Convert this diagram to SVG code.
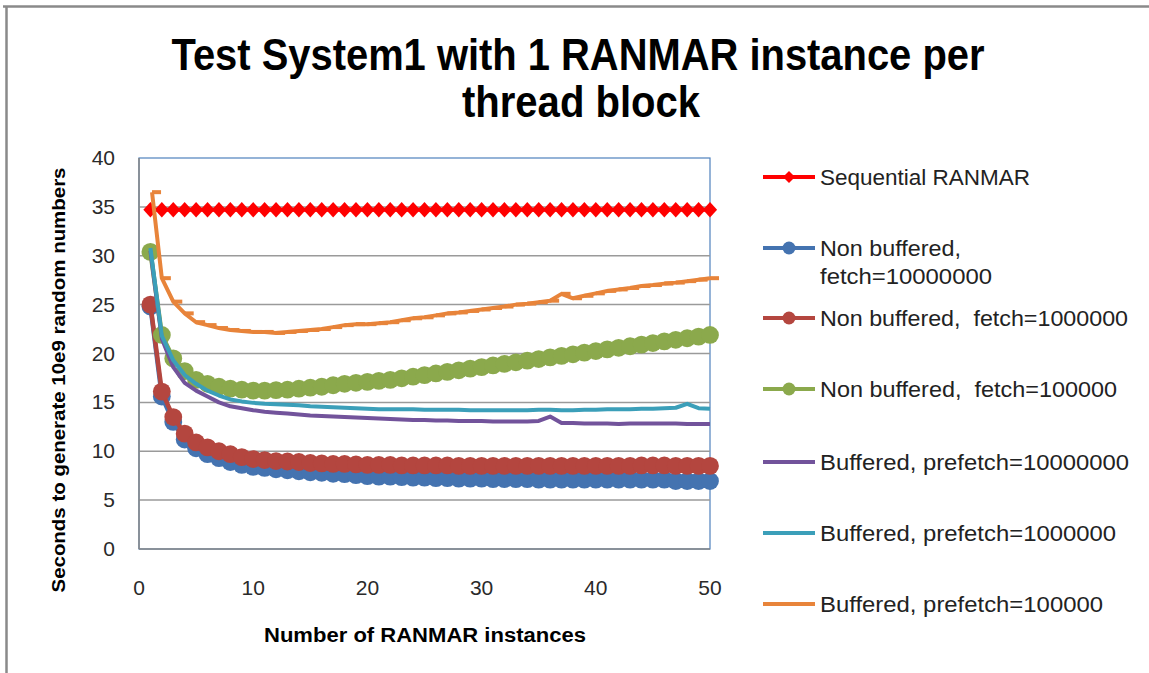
<svg xmlns="http://www.w3.org/2000/svg" width="1149" height="673" viewBox="0 0 1149 673">
<style>
.frame{stroke:#8a8a8a;stroke-width:2.5;fill:none}
.grid{stroke:#9a9a9a;stroke-width:1.5}
.tick{font-family:"Liberation Sans",Arial,sans-serif;font-size:21px;fill:#2a2a2a}
.ttl{font-family:"Liberation Sans",Arial,sans-serif;font-weight:bold;fill:#000}
.leg{font-family:"Liberation Sans",Arial,sans-serif;font-size:22px;fill:#222;white-space:pre}
.s{fill:none;vector-effect:non-scaling-stroke;stroke-linejoin:round}
</style>
<defs>
<marker id="mDia" markerUnits="userSpaceOnUse" markerWidth="1" markerHeight="1" overflow="visible"><polygon points="-0.62,0 0,0.79 0.62,0 0,-0.79" fill="#FF0000"/></marker>
<marker id="mBlue" markerUnits="userSpaceOnUse" markerWidth="1" markerHeight="1" overflow="visible"><ellipse rx="0.78" ry="0.91" fill="#4473B0"/></marker>
<marker id="mRed" markerUnits="userSpaceOnUse" markerWidth="1" markerHeight="1" overflow="visible"><ellipse rx="0.78" ry="0.91" fill="#B4463F"/></marker>
<marker id="mGreen" markerUnits="userSpaceOnUse" markerWidth="1" markerHeight="1" overflow="visible"><ellipse rx="0.78" ry="0.91" fill="#8BA94C"/></marker>
<marker id="mDash" markerUnits="userSpaceOnUse" markerWidth="1" markerHeight="1" overflow="visible"><rect x="0" y="-0.2" width="0.79" height="0.41" fill="#E8843A"/></marker>
</defs>
<rect width="1149" height="673" fill="#fff"/>
<g id="frame">
<line class="frame" x1="3" y1="6.5" x2="1149" y2="6.5"/>
<line class="frame" x1="6.5" y1="6" x2="6.5" y2="673"/>
</g>
<g id="title">
<text class="ttl" x="578" y="70" font-size="44" text-anchor="middle" textLength="813" lengthAdjust="spacingAndGlyphs">Test System1 with 1 RANMAR instance per</text>
<text class="ttl" x="581" y="117" font-size="44" text-anchor="middle" textLength="238" lengthAdjust="spacingAndGlyphs">thread block</text>
</g>
<g id="plot-area">
<rect x="139" y="158" width="571" height="391" fill="#fff" stroke="#4F81BD" stroke-width="1.2"/>
<g class="grid">
<line x1="139" y1="500.1" x2="710" y2="500.1"/>
<line x1="139" y1="451.25" x2="710" y2="451.25"/>
<line x1="139" y1="402.4" x2="710" y2="402.4"/>
<line x1="139" y1="353.5" x2="710" y2="353.5"/>
<line x1="139" y1="304.6" x2="710" y2="304.6"/>
<line x1="139" y1="255.75" x2="710" y2="255.75"/>
<line x1="139" y1="206.9" x2="710" y2="206.9"/>
</g>
<line x1="139" y1="158" x2="139" y2="549" stroke="#868686" stroke-width="1.5"/>
<line x1="139" y1="549" x2="710" y2="549" stroke="#868686" stroke-width="1.5"/>
</g>
<g id="y-axis">
<g class="tick" text-anchor="end">
<text x="115" y="556">0</text>
<text x="115" y="507">5</text>
<text x="115" y="458">10</text>
<text x="115" y="409">15</text>
<text x="115" y="360.5">20</text>
<text x="115" y="311.6">25</text>
<text x="115" y="262.8">30</text>
<text x="115" y="213.9">35</text>
<text x="115" y="165">40</text>
</g>
<text class="ttl" font-size="19" text-anchor="middle" transform="translate(65,380) rotate(-90)" textLength="425" lengthAdjust="spacingAndGlyphs">Seconds to generate 10e9 random numbers</text>
</g>
<g id="x-axis">
<g class="tick" text-anchor="middle">
<text x="139" y="595">0</text>
<text x="253.2" y="595">10</text>
<text x="367.4" y="595">20</text>
<text x="481.6" y="595">30</text>
<text x="595.8" y="595">40</text>
<text x="710" y="595">50</text>
</g>
<text class="ttl" x="425" y="642" font-size="20" text-anchor="middle" textLength="322" lengthAdjust="spacingAndGlyphs">Number of RANMAR instances</text>
</g>
<g id="connectors" transform="translate(139,549) scale(11.42,-9.775)">
<polyline id="s-seq" class="s" stroke="#FF0000" stroke-width="4" marker-start="url(#mDia)" marker-mid="url(#mDia)" marker-end="url(#mDia)" points="1,34.7 2,34.7 3,34.7 4,34.7 5,34.7 6,34.7 7,34.7 8,34.7 9,34.7 10,34.7 11,34.7 12,34.7 13,34.7 14,34.7 15,34.7 16,34.7 17,34.7 18,34.7 19,34.7 20,34.7 21,34.7 22,34.7 23,34.7 24,34.7 25,34.7 26,34.7 27,34.7 28,34.7 29,34.7 30,34.7 31,34.7 32,34.7 33,34.7 34,34.7 35,34.7 36,34.7 37,34.7 38,34.7 39,34.7 40,34.7 41,34.7 42,34.7 43,34.7 44,34.7 45,34.7 46,34.7 47,34.7 48,34.7 49,34.7 50,34.7"/>
<polyline id="s-blue" class="s" stroke="#4473B0" stroke-width="4.5" marker-start="url(#mBlue)" marker-mid="url(#mBlue)" marker-end="url(#mBlue)" points="1,24.8 2,15.6 3,13.0 4,11.2 5,10.3 6,9.7 7,9.3 8,8.9 9,8.6 10,8.4 11,8.3 12,8.15 13,8.05 14,7.95 15,7.85 16,7.8 17,7.7 18,7.65 19,7.55 20,7.45 21,7.4 22,7.4 23,7.35 24,7.3 25,7.3 26,7.25 27,7.25 28,7.2 29,7.2 30,7.2 31,7.15 32,7.15 33,7.15 34,7.15 35,7.1 36,7.1 37,7.1 38,7.1 39,7.1 40,7.1 41,7.1 42,7.1 43,7.1 44,7.1 45,7.1 46,7.1 47,6.95 48,6.95 49,6.95 50,6.95"/>
<polyline id="s-red" class="s" stroke="#B4463F" stroke-width="4.5" marker-start="url(#mRed)" marker-mid="url(#mRed)" marker-end="url(#mRed)" points="1,25.0 2,16.1 3,13.5 4,11.8 5,10.9 6,10.4 7,10.0 8,9.7 9,9.4 10,9.2 11,9.1 12,9.0 13,8.95 14,8.9 15,8.8 16,8.75 17,8.7 18,8.7 19,8.65 20,8.6 21,8.6 22,8.6 23,8.55 24,8.55 25,8.55 26,8.55 27,8.55 28,8.5 29,8.5 30,8.5 31,8.5 32,8.5 33,8.5 34,8.5 35,8.5 36,8.5 37,8.5 38,8.5 39,8.5 40,8.5 41,8.5 42,8.5 43,8.5 44,8.55 45,8.55 46,8.55 47,8.5 48,8.5 49,8.5 50,8.5"/>
<polyline id="s-green" class="s" stroke="#8BA94C" stroke-width="4.5" marker-start="url(#mGreen)" marker-mid="url(#mGreen)" marker-end="url(#mGreen)" points="1,30.4 2,21.9 3,19.5 4,18.2 5,17.3 6,16.9 7,16.6 8,16.4 9,16.3 10,16.2 11,16.2 12,16.25 13,16.3 14,16.4 15,16.5 16,16.6 17,16.75 18,16.9 19,17.0 20,17.1 21,17.2 22,17.3 23,17.46 24,17.63 25,17.79 26,17.96 27,18.12 28,18.28 29,18.45 30,18.61 31,18.78 32,18.94 33,19.1 34,19.27 35,19.43 36,19.6 37,19.76 38,19.92 39,20.09 40,20.25 41,20.42 42,20.58 43,20.74 44,20.91 45,21.07 46,21.24 47,21.4 48,21.56 49,21.73 50,21.9"/>
<polyline id="s-purple" class="s" stroke="#72539B" stroke-width="4" points="1,30.5 2,21.5 3,18.6 4,17.0 5,16.2 6,15.6 7,15.0 8,14.6 9,14.4 10,14.2 11,14.05 12,13.95 13,13.85 14,13.75 15,13.65 16,13.6 17,13.55 18,13.5 19,13.45 20,13.4 21,13.35 22,13.3 23,13.25 24,13.2 25,13.2 26,13.15 27,13.15 28,13.1 29,13.1 30,13.1 31,13.05 32,13.05 33,13.05 34,13.05 35,13.1 36,13.55 37,12.9 38,12.9 39,12.85 40,12.85 41,12.85 42,12.8 43,12.85 44,12.85 45,12.85 46,12.85 47,12.85 48,12.8 49,12.8 50,12.8"/>
<polyline id="s-teal" class="s" stroke="#3B9FB9" stroke-width="4" points="1,30.8 2,21.8 3,19.3 4,17.8 5,16.9 6,16.2 7,15.7 8,15.3 9,15.1 10,14.95 11,14.85 12,14.8 13,14.75 14,14.7 15,14.6 16,14.55 17,14.5 18,14.45 19,14.4 20,14.35 21,14.3 22,14.3 23,14.3 24,14.3 25,14.25 26,14.25 27,14.25 28,14.25 29,14.2 30,14.2 31,14.2 32,14.2 33,14.2 34,14.2 35,14.25 36,14.25 37,14.2 38,14.2 39,14.25 40,14.25 41,14.3 42,14.3 43,14.3 44,14.35 45,14.35 46,14.4 47,14.45 48,14.85 49,14.4 50,14.35"/>
<polyline id="s-orange" class="s" stroke="#E8843A" stroke-width="4" marker-start="url(#mDash)" marker-mid="url(#mDash)" marker-end="url(#mDash)" points="1.14,36.5 2,27.7 3,25.3 4,24.1 5,23.2 6,22.9 7,22.6 8,22.4 9,22.3 10,22.2 11,22.2 12,22.1 13,22.2 14,22.3 15,22.4 16,22.5 17,22.7 18,22.9 19,23.0 20,23.0 21,23.1 22,23.2 23,23.4 24,23.6 25,23.7 26,23.9 27,24.1 28,24.2 29,24.35 30,24.5 31,24.65 32,24.8 33,25.0 34,25.1 35,25.25 36,25.4 37,26.1 38,25.65 39,25.9 40,26.15 41,26.4 42,26.55 43,26.7 44,26.9 45,27.0 46,27.15 47,27.25 48,27.4 49,27.55 50,27.7"/>
</g>
<g id="legend">
<g id="leg-seq"><line x1="763" y1="177" x2="815" y2="177" stroke="#FF0000" stroke-width="4"/><polygon points="783,177 789,171 795,177 789,183" fill="#FF0000"/><text class="leg" x="820" y="184.5" textLength="210" lengthAdjust="spacingAndGlyphs">Sequential RANMAR</text></g>
<g id="leg-blue"><line x1="763" y1="248" x2="815" y2="248" stroke="#4473B0" stroke-width="4"/><circle cx="789" cy="248" r="6.5" fill="#4473B0"/><text class="leg" x="820" y="255.5" textLength="141" lengthAdjust="spacingAndGlyphs">Non buffered,</text><text class="leg" x="820" y="283.5" textLength="172" lengthAdjust="spacingAndGlyphs">fetch=10000000</text></g>
<g id="leg-red"><line x1="763" y1="318" x2="815" y2="318" stroke="#B4463F" stroke-width="4"/><circle cx="789" cy="318" r="6.5" fill="#B4463F"/><text class="leg" x="820" y="325.5" textLength="308" lengthAdjust="spacingAndGlyphs">Non buffered,  fetch=1000000</text></g>
<g id="leg-green"><line x1="763" y1="389" x2="815" y2="389" stroke="#8BA94C" stroke-width="4"/><circle cx="789" cy="389" r="6.5" fill="#8BA94C"/><text class="leg" x="820" y="396.5" textLength="297" lengthAdjust="spacingAndGlyphs">Non buffered,  fetch=100000</text></g>
<g id="leg-purple"><line x1="763" y1="462" x2="815" y2="462" stroke="#72539B" stroke-width="4"/><text class="leg" x="820" y="469.5" textLength="309" lengthAdjust="spacingAndGlyphs">Buffered, prefetch=10000000</text></g>
<g id="leg-teal"><line x1="763" y1="533" x2="815" y2="533" stroke="#3B9FB9" stroke-width="4"/><text class="leg" x="820" y="540.5" textLength="296" lengthAdjust="spacingAndGlyphs">Buffered, prefetch=1000000</text></g>
<g id="leg-orange"><line x1="763" y1="604" x2="815" y2="604" stroke="#E8843A" stroke-width="4"/><text class="leg" x="820" y="611.5" textLength="283" lengthAdjust="spacingAndGlyphs">Buffered, prefetch=100000</text></g>
</g>
</svg>
